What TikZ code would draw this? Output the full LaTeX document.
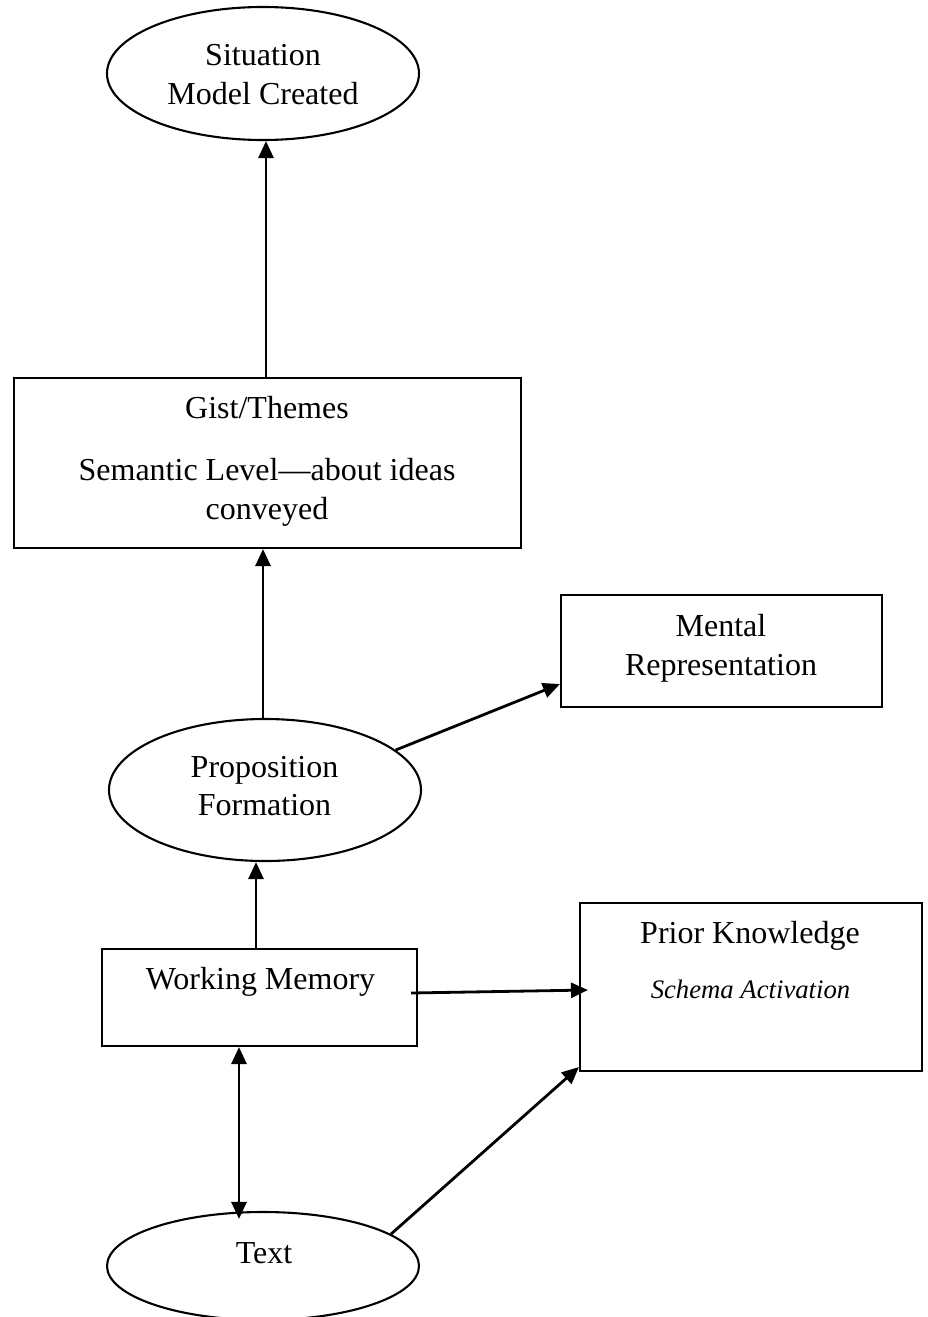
\documentclass[tikz,border=0pt]{standalone}
\usepackage{fontspec}
\setmainfont{Liberation Serif}
\usetikzlibrary{arrows.meta,shapes.geometric}
\begin{document}
\begin{tikzpicture}[x=1pt,y=-1pt,
  outl/.style={draw, line width=2.1pt, inner sep=0pt},
  box/.style={outl, rectangle},
  oval/.style={outl, ellipse},
  lbl/.style={anchor=base, inner sep=0pt, font=\fontsize{32}{38}\selectfont},
  small/.style={anchor=base, inner sep=0pt, font=\fontsize{26.7}{32}\selectfont\itshape},
  arr/.style={line width=2.8pt, -{Triangle[length=17pt,width=15pt]}},
  darr/.style={line width=2.8pt, {Triangle[length=17pt,width=15pt]}-{Triangle[length=17pt,width=15pt]}}]
\useasboundingbox (0,0) rectangle (928,1317);

% shapes
\node[oval, minimum width=312pt, minimum height=133pt] (sit) at (263,73.5) {};
\node[box, minimum width=507pt, minimum height=170pt] (gist) at (267.5,463) {};
\node[box, minimum width=321pt, minimum height=112pt] (ment) at (721.5,651) {};
\node[oval, minimum width=312pt, minimum height=142pt] (prop) at (265,790) {};
\node[box, minimum width=315pt, minimum height=97pt] (wm) at (259.5,997.5) {};
\node[box, minimum width=342pt, minimum height=168pt] (prior) at (751,987) {};
\node[oval, minimum width=312pt, minimum height=108pt] (text) at (263,1266) {};

% texts
\node[lbl] (sitA) at (263,65) {Situation};
\node[lbl] (sitB) at (263,104) {Model Created};
\node[lbl] (gistA) at (267,418) {Gist/Themes};
\node[lbl] (gistB) at (267,480) {Semantic Level—about ideas};
\node[lbl] (gistC) at (267,519) {conveyed};
\node[lbl] (mentA) at (721,636) {Mental};
\node[lbl] (mentB) at (721,675) {Representation};
\node[lbl] (propA) at (264.5,777) {Proposition};
\node[lbl] (propB) at (264.5,815) {Formation};
\node[lbl] (wmA) at (260.5,989) {Working Memory};
\node[lbl] (priorA) at (750,943) {Prior Knowledge};
\node[small] (priorB) at (750.5,998) {Schema Activation};
\node[lbl] (textA) at (264,1263) {Text};

% connectors
\draw[arr] ([xshift=3pt]sit.south |- gist.north) -- ([xshift=3pt]sit.south);
\draw[arr] ([xshift=-2pt]prop.north) -- ([xshift=-2pt]prop.north |- gist.south);
\draw[arr] ([xshift=-9pt]prop.south |- wm.north) -- ([xshift=-9pt]prop.south);
\draw[arr] (prop.17) -- ([yshift=-33pt]ment.west);
\draw[arr] ([xshift=-7pt,yshift=4.5pt]wm.east) -- ([xshift=9pt,yshift=-3pt]prior.west);
\draw[arr] (text.14) -- ([yshift=5pt]prior.south west);
\draw[darr] ([xshift=-20.5pt]wm.south) -- ([xshift=-24pt,yshift=-8pt]text.north);
\end{tikzpicture}
\end{document}
